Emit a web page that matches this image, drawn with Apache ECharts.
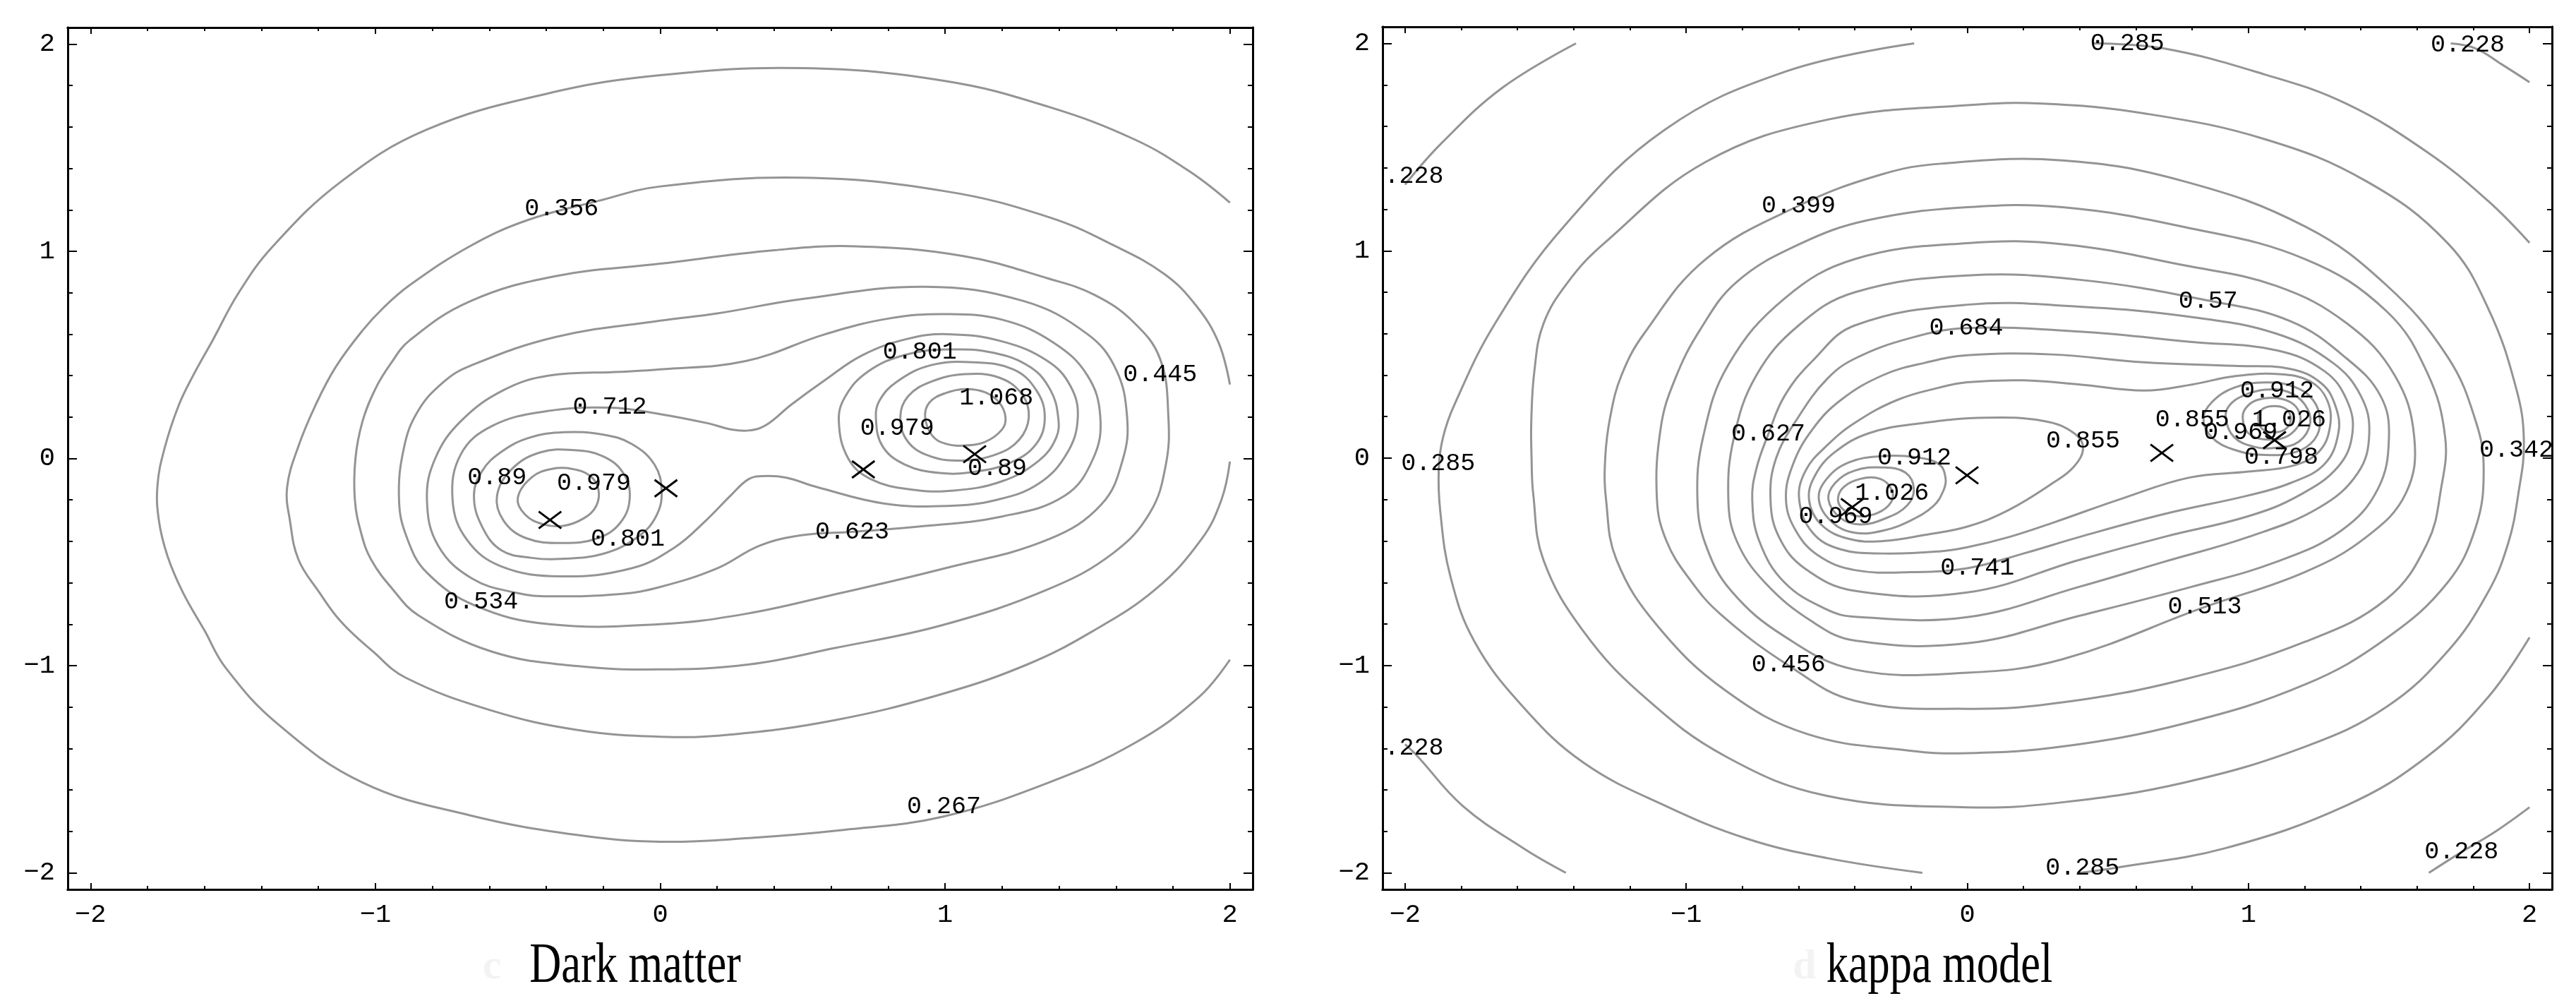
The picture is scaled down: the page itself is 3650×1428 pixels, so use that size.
<!DOCTYPE html>
<html>
<head>
<meta charset="utf-8">
<title>Dark matter / kappa model</title>
<script src="https://cdn.jsdelivr.net/npm/echarts@6.0.0/dist/echarts.min.js"></script>
<style>
  html, body { margin: 0; padding: 0; background: #fff; }
  #chart { width: 3650px; height: 1428px; }
</style>
</head>
<body>
<div id="chart"></div>
<script>
// ticks and captions
const majorTicks = [-2, -1, 0, 1, 2]
const minorTicks = [-1.8, -1.6, -1.4, -1.2, -0.8, -0.6, -0.4, -0.2, 0.2, 0.4, 0.6, 0.8, 1.2, 1.4, 1.6, 1.8]
const captions = ['Dark matter', 'kappa model']
const panelLetters = ['c', 'd']

// ---- panel c: dark matter, contour lines as [x, y] ----
const dm267 = [[2.0, 1.235], [1.86, 1.384], [1.665, 1.54], [1.364, 1.697], [1.0, 1.822], [0.5, 1.884], [0.0, 1.85], [-0.4, 1.76], [-0.82, 1.587], [-1.12, 1.337], [-1.36, 1.024], [-1.48, 0.8], [-1.571, 0.571], [-1.64, 0.4], [-1.69, 0.258], [-1.74, 0.05], [-1.765, -0.13], [-1.76, -0.3], [-1.73, -0.47], [-1.676, -0.646], [-1.6, -0.83], [-1.526, -1.01], [-1.345, -1.279], [-1.045, -1.564], [-0.669, -1.722], [-0.293, -1.817], [0.0, -1.85], [0.312, -1.832], [0.643, -1.793], [0.989, -1.73], [1.364, -1.564], [1.665, -1.374], [1.891, -1.152], [2.0, -0.971]]
const dm356 = [[2.0, 0.357], [1.96, 0.56], [1.88, 0.74], [1.77, 0.89], [1.59, 1.03], [1.364, 1.165], [1.0, 1.29], [0.5, 1.355], [0.0, 1.313], [-0.218, 1.243], [-0.469, 1.149], [-0.669, 1.024], [-0.879, 0.837], [-0.97, 0.73], [-1.045, 0.618], [-1.14, 0.44], [-1.21, 0.258], [-1.27, 0.06], [-1.31, -0.14], [-1.3, -0.3], [-1.27, -0.488], [-1.2, -0.64], [-1.12, -0.789], [-1.01, -0.93], [-0.894, -1.058], [-0.594, -1.216], [-0.293, -1.31], [0.0, -1.343], [0.237, -1.334], [0.613, -1.263], [0.989, -1.137], [1.289, -0.994], [1.515, -0.836], [1.74, -0.63], [1.9, -0.39], [1.97, -0.2], [2.0, -0.015]]
const dm445 = [[0.0, -1.018], [0.312, -0.994], [0.613, -0.915], [0.989, -0.805], [1.364, -0.63], [1.59, -0.457], [1.72, -0.26], [1.775, -0.03], [1.784, 0.2], [1.755, 0.48], [1.66, 0.66], [1.524, 0.79], [1.364, 0.868], [1.064, 0.977], [0.688, 1.024], [0.4, 1.005], [0.0, 0.94], [-0.368, 0.88], [-0.669, 0.758], [-0.879, 0.571], [-0.95, 0.45], [-1.0, 0.336], [-1.045, 0.18], [-1.07, 0.0], [-1.072, -0.2], [-1.05, -0.36], [-1.015, -0.488], [-0.94, -0.63], [-0.849, -0.757], [-0.594, -0.931], [-0.293, -1.002], [0.0, -1.018]]
const dm534 = [[0.0, -0.8], [0.3, -0.75], [0.6, -0.66], [1.0, -0.53], [1.364, -0.39], [1.55, -0.22], [1.625, 0.0], [1.639, 0.2], [1.6, 0.43], [1.5, 0.6], [1.275, 0.76], [0.93, 0.829], [0.5, 0.77], [0.2, 0.7], [0.0, 0.665], [-0.368, 0.586], [-0.669, 0.446], [-0.76, 0.37], [-0.85, 0.23], [-0.9, 0.05], [-0.917, -0.2], [-0.89, -0.38], [-0.82, -0.55], [-0.65, -0.71], [-0.39, -0.8], [0.0, -0.8]]
const dm623 = [[0.0, -0.62], [0.2, -0.53], [0.35, -0.42], [0.5, -0.37], [0.673, -0.354], [0.9, -0.33], [1.2, -0.28], [1.42, -0.18], [1.52, 0.0], [1.545, 0.2], [1.5, 0.4], [1.38, 0.56], [1.2, 0.67], [1.0, 0.697], [0.8, 0.675], [0.58, 0.6], [0.3, 0.47], [0.0, 0.43], [-0.139, 0.418], [-0.39, 0.4], [-0.55, 0.33], [-0.7, 0.18], [-0.79, 0.0], [-0.819, -0.2], [-0.78, -0.42], [-0.66, -0.58], [-0.5, -0.65], [-0.39, -0.665], [-0.139, -0.654], [0.0, -0.62]]
const dm712 = [[-0.35, -0.569], [-0.1, -0.53], [0.05, -0.43], [0.16, -0.3], [0.25, -0.175], [0.31, -0.1], [0.36, -0.085], [0.44, -0.092], [0.55, -0.138], [0.788, -0.218], [1.009, -0.229], [1.18, -0.2], [1.33, -0.12], [1.43, 0.03], [1.466, 0.2], [1.44, 0.35], [1.36, 0.47], [1.2, 0.565], [1.009, 0.6], [0.867, 0.577], [0.709, 0.498], [0.58, 0.38], [0.46, 0.26], [0.37, 0.16], [0.31, 0.135], [0.25, 0.14], [0.17, 0.169], [0.0, 0.214], [-0.177, 0.245], [-0.4, 0.228], [-0.59, 0.157], [-0.7, 0.02], [-0.729, -0.2], [-0.68, -0.39], [-0.56, -0.52], [-0.35, -0.569]]
const dm801a = [[-0.35, -0.485], [-0.2, -0.46], [-0.08, -0.38], [-0.015, -0.28], [0.005, -0.16], [-0.02, -0.03], [-0.1, 0.07], [-0.2, 0.115], [-0.336, 0.127], [-0.46, 0.1], [-0.56, 0.03], [-0.625, -0.06], [-0.654, -0.18], [-0.625, -0.33], [-0.557, -0.444], [-0.45, -0.48], [-0.35, -0.485]]
const dm890a = [[-0.34, -0.408], [-0.22, -0.385], [-0.14, -0.31], [-0.107, -0.19], [-0.13, -0.07], [-0.2, 0.01], [-0.3, 0.04], [-0.42, 0.03], [-0.52, -0.05], [-0.573, -0.18], [-0.55, -0.3], [-0.47, -0.385], [-0.34, -0.408]]
const dm979a = [[-0.34, -0.325], [-0.27, -0.29], [-0.225, -0.23], [-0.217, -0.15], [-0.245, -0.085], [-0.31, -0.05], [-0.38, -0.05], [-0.45, -0.09], [-0.5, -0.19], [-0.475, -0.27], [-0.41, -0.318], [-0.34, -0.325]]
const dm801b = [[1.03, -0.155], [1.2, -0.11], [1.33, -0.01], [1.39, 0.1], [1.397, 0.2], [1.37, 0.33], [1.3, 0.44], [1.17, 0.51], [1.01, 0.526], [0.86, 0.5], [0.73, 0.42], [0.65, 0.3], [0.627, 0.18], [0.66, 0.0], [0.74, -0.1], [0.88, -0.15], [1.03, -0.155]]
const dm890b = [[0.98, -0.07], [1.1, -0.065], [1.23, -0.02], [1.32, 0.07], [1.35, 0.2], [1.32, 0.33], [1.24, 0.43], [1.1, 0.464], [0.95, 0.45], [0.83, 0.37], [0.77, 0.28], [0.757, 0.2], [0.78, 0.06], [0.86, -0.03], [0.98, -0.07]]
const dm979b = [[1.06, -0.01], [1.18, 0.02], [1.26, 0.09], [1.294, 0.2], [1.27, 0.31], [1.19, 0.39], [1.07, 0.407], [0.95, 0.37], [0.87, 0.3], [0.843, 0.2], [0.87, 0.08], [0.95, 0.01], [1.06, -0.01]]
const dm1068 = [[1.06, 0.062], [1.14, 0.08], [1.2, 0.14], [1.212, 0.2], [1.19, 0.27], [1.14, 0.32], [1.07, 0.335], [1.0, 0.315], [0.945, 0.27], [0.93, 0.2], [0.955, 0.11], [1.0, 0.072], [1.06, 0.062]]
const dmContours = [dm267, dm356, dm445, dm534, dm623, dm712, dm801a, dm890a, dm979a, dm801b, dm890b, dm979b, dm1068]
const dmLabels = [[-0.346, 1.204, '0.356'], [-0.177, 0.248, '0.712'], [-0.573, -0.093, '0.89'], [-0.233, -0.121, '0.979'], [-0.114, -0.388, '0.801'], [-0.629, -0.694, '0.534'], [0.911, 0.515, '0.801'], [1.18, 0.293, '1.068'], [0.832, 0.146, '0.979'], [1.183, -0.047, '0.89'], [1.755, 0.403, '0.445'], [0.674, -0.354, '0.623'], [0.996, -1.682, '0.267']]
const dmPeaks = [[-0.387, -0.297], [0.02, -0.144], [0.713, -0.053], [1.104, 0.021]]

// ---- panel d: kappa model ----
const k228a = [[-2.0, 1.319], [-1.868, 1.522], [-1.652, 1.788], [-1.392, 2.0]]
const k228b = [[-2.0, -1.38], [-1.955, -1.439], [-1.796, -1.676], [-1.58, -1.881], [-1.428, -2.0]]
const k228c = [[1.72, 2.0], [1.808, 1.976], [1.9, 1.9], [2.0, 1.813]]
const k228d = [[1.642, -2.0], [1.758, -1.9], [1.88, -1.8], [2.0, -1.684]]
const k285a = [[-0.189, 2.0], [-0.643, 1.866], [-1.075, 1.585], [-1.436, 1.116], [-1.681, 0.647], [-1.825, 0.256], [-1.865, 0.1], [-1.88, -0.05], [-1.875, -0.253], [-1.839, -0.569], [-1.753, -0.885], [-1.58, -1.2], [-1.364, -1.47], [-1.075, -1.676], [-0.787, -1.834], [-0.499, -1.929], [-0.16, -2.0]]
const k285b = [[0.45, 2.0], [0.698, 1.976], [1.059, 1.85], [1.347, 1.71], [1.636, 1.476], [1.852, 1.241], [2.0, 1.038]]
const k285c = [[2.0, -0.865], [1.852, -1.154], [1.636, -1.439], [1.347, -1.676], [0.915, -1.882], [0.526, -1.976], [0.4, -2.0]]
const k342 = [[0.0, -1.684], [0.338, -1.66], [0.771, -1.565], [1.203, -1.391], [1.491, -1.2], [1.708, -0.933], [1.852, -0.648], [1.924, -0.411], [1.96, -0.174], [1.98, 0.08], [1.953, 0.334], [1.852, 0.725], [1.708, 1.038], [1.42, 1.335], [1.059, 1.538], [0.627, 1.663], [0.266, 1.71], [0.0, 1.702], [-0.499, 1.632], [-0.931, 1.428], [-1.291, 1.037], [-1.42, 0.85], [-1.508, 0.647], [-1.54, 0.42], [-1.551, 0.177], [-1.55, 0.0], [-1.544, -0.174], [-1.508, -0.49], [-1.364, -0.838], [-1.147, -1.154], [-0.859, -1.439], [-0.499, -1.629], [0.0, -1.684]]
const k399 = [[0.0, -1.423], [0.338, -1.391], [0.771, -1.28], [1.203, -1.091], [1.491, -0.869], [1.708, -0.601], [1.809, -0.332], [1.837, -0.057], [1.809, 0.177], [1.708, 0.49], [1.491, 0.834], [1.203, 1.116], [0.771, 1.335], [0.338, 1.436], [-0.094, 1.42], [-0.3, 1.37], [-0.6, 1.217], [-0.931, 0.959], [-1.15, 0.6], [-1.23, 0.4], [-1.27, 0.2], [-1.288, 0.0], [-1.285, -0.2], [-1.248, -0.49], [-1.104, -0.806], [-0.859, -1.122], [-0.571, -1.33], [-0.21, -1.41], [0.0, -1.423]]
const k456 = [[0.0, -1.209], [0.338, -1.178], [0.771, -1.067], [1.203, -0.885], [1.491, -0.68], [1.636, -0.411], [1.685, -0.15], [1.7, 0.1], [1.636, 0.412], [1.491, 0.709], [1.203, 0.959], [0.771, 1.115], [0.338, 1.21], [0.0, 1.21], [-0.355, 1.147], [-0.6, 1.03], [-0.82, 0.85], [-0.95, 0.62], [-1.04, 0.38], [-1.09, 0.15], [-1.104, -0.2], [-1.07, -0.4], [-0.99, -0.58], [-0.88, -0.75], [-0.636, -1.0], [-0.4, -1.17], [0.0, -1.209]]
const k513 = [[0.0, -1.035], [0.338, -0.97], [0.843, -0.719], [1.2, -0.55], [1.42, -0.38], [1.56, -0.17], [1.59, 0.1], [1.52, 0.4], [1.35, 0.65], [1.1, 0.83], [0.771, 0.93], [0.35, 1.03], [0.0, 1.037], [-0.4, 0.96], [-0.65, 0.77], [-0.85, 0.45], [-0.94, 0.1], [-0.96, -0.2], [-0.93, -0.42], [-0.84, -0.64], [-0.65, -0.86], [-0.4, -1.02], [0.0, -1.035]]
const k570 = [[0.0, -0.893], [0.4, -0.76], [0.8, -0.62], [1.1, -0.5], [1.33, -0.35], [1.46, -0.15], [1.5, 0.1], [1.47, 0.3], [1.35, 0.48], [1.15, 0.66], [0.857, 0.76], [0.4, 0.86], [0.0, 0.881], [-0.4, 0.8], [-0.6, 0.64], [-0.75, 0.4], [-0.83, 0.1], [-0.85, -0.2], [-0.82, -0.4], [-0.72, -0.6], [-0.55, -0.79], [-0.4, -0.88], [0.0, -0.893]]
const k627 = [[0.0, -0.767], [0.4, -0.62], [0.7, -0.5], [1.0, -0.38], [1.25, -0.24], [1.39, -0.07], [1.43, 0.12], [1.4, 0.3], [1.3, 0.46], [1.1, 0.6], [0.8, 0.68], [0.4, 0.73], [0.0, 0.74], [-0.4, 0.64], [-0.55, 0.47], [-0.65, 0.3], [-0.708, 0.115], [-0.75, -0.05], [-0.765, -0.2], [-0.74, -0.4], [-0.65, -0.6], [-0.5, -0.73], [-0.4, -0.765], [0.0, -0.767]]
const k684 = [[0.0, -0.648], [0.4, -0.49], [0.7, -0.38], [1.0, -0.28], [1.18, -0.18], [1.32, -0.04], [1.37, 0.12], [1.35, 0.28], [1.27, 0.42], [1.1, 0.52], [0.8, 0.56], [0.4, 0.61], [0.0, 0.627], [-0.2, 0.58], [-0.4, 0.48], [-0.5, 0.38], [-0.6, 0.2], [-0.68, 0.0], [-0.7, -0.2], [-0.67, -0.38], [-0.58, -0.53], [-0.4, -0.64], [0.0, -0.648]]
const k741 = [[0.0, -0.531], [0.2, -0.46], [0.4, -0.38], [0.7, -0.27], [1.0, -0.18], [1.15, -0.12], [1.27, -0.03], [1.32, 0.12], [1.31, 0.25], [1.26, 0.36], [1.15, 0.43], [0.949, 0.445], [0.629, 0.462], [0.3, 0.5], [0.0, 0.496], [-0.15, 0.46], [-0.3, 0.4], [-0.45, 0.28], [-0.55, 0.14], [-0.62, -0.03], [-0.645, -0.2], [-0.61, -0.35], [-0.53, -0.47], [-0.4, -0.54], [-0.2, -0.55], [0.0, -0.531]]
const k798 = [[0.0, -0.43], [0.15, -0.38], [0.308, -0.31], [0.548, -0.196], [0.789, -0.094], [1.0, -0.065], [1.157, -0.037], [1.25, 0.03], [1.29, 0.15], [1.28, 0.28], [1.22, 0.37], [1.109, 0.405], [0.95, 0.395], [0.8, 0.355], [0.629, 0.326], [0.4, 0.355], [0.2, 0.375], [0.0, 0.366], [-0.1, 0.34], [-0.25, 0.28], [-0.4, 0.17], [-0.5, 0.06], [-0.575, -0.06], [-0.598, -0.2], [-0.55, -0.36], [-0.45, -0.44], [-0.3, -0.46], [-0.1, -0.45], [0.0, -0.43]]
const k855a = [[0.0, -0.33], [0.148, -0.25], [0.308, -0.117], [0.38, -0.04], [0.412, 0.05], [0.38, 0.12], [0.276, 0.178], [0.068, 0.195], [-0.172, 0.167], [-0.35, 0.12], [-0.47, 0.03], [-0.54, -0.08], [-0.563, -0.2], [-0.52, -0.32], [-0.42, -0.39], [-0.3, -0.4], [-0.15, -0.37], [0.0, -0.33]]
const k912a = [[-0.4, -0.36], [-0.3, -0.35], [-0.2, -0.3], [-0.12, -0.23], [-0.086, -0.16], [-0.077, -0.1], [-0.1, -0.03], [-0.182, 0.004], [-0.3, 0.01], [-0.42, -0.02], [-0.5, -0.1], [-0.528, -0.2], [-0.48, -0.31], [-0.4, -0.36]]
const k969a = [[-0.38, -0.32], [-0.29, -0.29], [-0.215, -0.23], [-0.19, -0.15], [-0.22, -0.07], [-0.3, -0.045], [-0.4, -0.06], [-0.47, -0.12], [-0.494, -0.2], [-0.45, -0.29], [-0.38, -0.32]]
const k1026a = [[-0.39, -0.28], [-0.32, -0.265], [-0.27, -0.21], [-0.27, -0.15], [-0.31, -0.1], [-0.38, -0.1], [-0.44, -0.14], [-0.46, -0.2], [-0.44, -0.25], [-0.39, -0.28]]
const k855b = [[1.06, 0.015], [1.17, 0.03], [1.235, 0.09], [1.255, 0.18], [1.23, 0.28], [1.16, 0.345], [1.06, 0.365], [0.95, 0.34], [0.87, 0.27], [0.84, 0.19], [0.87, 0.1], [0.95, 0.04], [1.06, 0.015]]
const k912b = [[1.1, 0.05], [1.18, 0.08], [1.22, 0.17], [1.2, 0.26], [1.14, 0.32], [1.06, 0.33], [0.98, 0.3], [0.93, 0.25], [0.92, 0.19], [0.95, 0.1], [1.02, 0.055], [1.1, 0.05]]
const k969b = [[1.13, 0.1], [1.175, 0.15], [1.185, 0.2], [1.16, 0.26], [1.1, 0.29], [1.03, 0.28], [0.99, 0.24], [0.98, 0.19], [1.0, 0.12], [1.06, 0.09], [1.13, 0.1]]
const k1026b = [[1.1, 0.125], [1.14, 0.15], [1.15, 0.2], [1.13, 0.24], [1.08, 0.25], [1.045, 0.23], [1.035, 0.19], [1.05, 0.14], [1.1, 0.125]]
const kappaContours = [k228a, k228b, k228c, k228d, k285a, k285b, k285c, k342, k399, k456, k513, k570, k627, k684, k741, k798, k855a, k912a, k969a, k1026a, k855b, k912b, k969b, k1026b]
const kappaLabels = [[-1.968, 1.358, '.228'], [-0.6, 1.217, '0.399'], [-1.882, -0.026, '0.285'], [-0.708, 0.115, '0.627'], [-0.188, 0.002, '0.912'], [-0.268, -0.168, '1.026'], [-0.468, -0.282, '0.969'], [0.412, 0.082, '0.855'], [0.036, -0.531, '0.741'], [0.845, -0.719, '0.513'], [-0.004, 0.627, '0.684'], [0.857, 0.756, '0.57'], [0.569, 1.999, '0.285'], [1.78, 1.991, '0.228'], [1.102, 0.326, '0.912'], [0.8, 0.185, '0.855'], [1.145, 0.185, '1.026'], [0.972, 0.123, '0.969'], [1.117, 0.005, '0.798'], [1.953, 0.037, '0.342'], [-0.636, -0.996, '0.456'], [-1.968, -1.399, '.228'], [0.41, -1.976, '0.285'], [1.758, -1.897, '0.228']]
const kappaPeaks = [[-0.409, -0.236], [-0.001, -0.083], [0.692, 0.025], [1.093, 0.087]]

const chart = echarts.init(document.getElementById('chart'))

const grids = [
  { left: 96, top: 39, width: 1679, height: 1221 },
  { left: 1959, top: 38, width: 1657, height: 1222 }
]

const fmtTick = v => (v < 0 ? '\u2212' + (-v) : String(v))

function makeAxis (gridIndex, position, ticks, tickLength, withLabels) {
  return {
    type: 'value',
    gridIndex,
    position,
    min: -2.08,
    max: 2.08,
    axisLine: { show: true, onZero: false, lineStyle: { color: '#000', width: 3 } },
    axisTick: { show: true, inside: true, length: tickLength, customValues: ticks, lineStyle: { color: '#000', width: 2 } },
    axisLabel: withLabels
      ? { show: true, customValues: majorTicks, margin: 18, color: '#000', fontFamily: 'Liberation Mono', fontSize: 37, formatter: fmtTick }
      : { show: false },
    splitLine: { show: false }
  }
}

const xAxes = []
const yAxes = []
grids.forEach((g, gi) => {
  xAxes.push(makeAxis(gi, 'bottom', majorTicks, 9, true))
  xAxes.push(makeAxis(gi, 'bottom', minorTicks, 5, false))
  xAxes.push(makeAxis(gi, 'top', majorTicks, 9, false))
  xAxes.push(makeAxis(gi, 'top', minorTicks, 5, false))
  yAxes.push(makeAxis(gi, 'left', majorTicks, 13, true))
  yAxes.push(makeAxis(gi, 'left', minorTicks, 7, false))
  yAxes.push(makeAxis(gi, 'right', majorTicks, 13, false))
  yAxes.push(makeAxis(gi, 'right', minorTicks, 7, false))
})

// each contour is one smooth path; a list whose last point repeats the first is a closed loop
function contourSeries (contours, axisIndex) {
  return {
    type: 'custom',
    xAxisIndex: axisIndex,
    yAxisIndex: axisIndex,
    silent: true,
    z: 2,
    data: contours.map(c => c[0]),
    renderItem: (params, api) => {
      const c = contours[params.dataIndex]
      const last = c[c.length - 1]
      const closed = last[0] === c[0][0] && last[1] === c[0][1]
      const pts = (closed ? c.slice(0, -1) : c).map(p => api.coord(p))
      return {
        type: closed ? 'polygon' : 'polyline',
        shape: { points: pts, smooth: 0.4 },
        style: { fill: 'none', stroke: '#949494', lineWidth: 3 }
      }
    }
  }
}

function labelSeries (labels, axisIndex) {
  return {
    type: 'custom',
    xAxisIndex: axisIndex,
    yAxisIndex: axisIndex,
    silent: true,
    z: 5,
    data: labels.map(l => [l[0], l[1]]),
    renderItem: (params, api) => {
      const p = api.coord([api.value(0), api.value(1)])
      return {
        type: 'text',
        x: p[0],
        y: p[1],
        style: {
          text: labels[params.dataIndex][2],
          font: '35px "Liberation Mono"',
          fill: '#000',
          align: 'center',
          verticalAlign: 'middle'
        }
      }
    }
  }
}

function peakSeries (points, axisIndex) {
  return {
    type: 'custom',
    xAxisIndex: axisIndex,
    yAxisIndex: axisIndex,
    silent: true,
    z: 6,
    data: points,
    renderItem: (params, api) => {
      const p = api.coord([api.value(0), api.value(1)])
      const st = { stroke: '#000', lineWidth: 3 }
      return {
        type: 'group',
        children: [
          { type: 'line', shape: { x1: p[0] - 16, y1: p[1] - 12, x2: p[0] + 16, y2: p[1] + 12 }, style: st },
          { type: 'line', shape: { x1: p[0] - 16, y1: p[1] + 12, x2: p[0] + 16, y2: p[1] - 12 }, style: st }
        ]
      }
    }
  }
}

const series = [
  contourSeries(dmContours, 0),
  contourSeries(kappaContours, 4),
  labelSeries(dmLabels, 0),
  labelSeries(kappaLabels, 4),
  peakSeries(dmPeaks, 0),
  peakSeries(kappaPeaks, 4)
]

const captionX = [900, 2748]
const letterX = [697, 2557]
const graphic = []
captions.forEach((c, i) => {
  graphic.push({
    type: 'text', x: letterX[i], y: 1370, silent: true,
    style: { text: panelLetters[i], font: 'bold 60px "Liberation Serif"', fill: '#f3f3f3', align: 'center', verticalAlign: 'middle' }
  })
  graphic.push({
    type: 'text', x: captionX[i], y: 1370, scaleX: 0.78, silent: true,
    style: { text: c, font: '80px "Liberation Serif"', fill: '#000', align: 'center', verticalAlign: 'middle' }
  })
})

chart.setOption({
  animation: false,
  backgroundColor: '#fff',
  grid: grids,
  xAxis: xAxes,
  yAxis: yAxes,
  series,
  graphic
})
</script>
</body>
</html>
